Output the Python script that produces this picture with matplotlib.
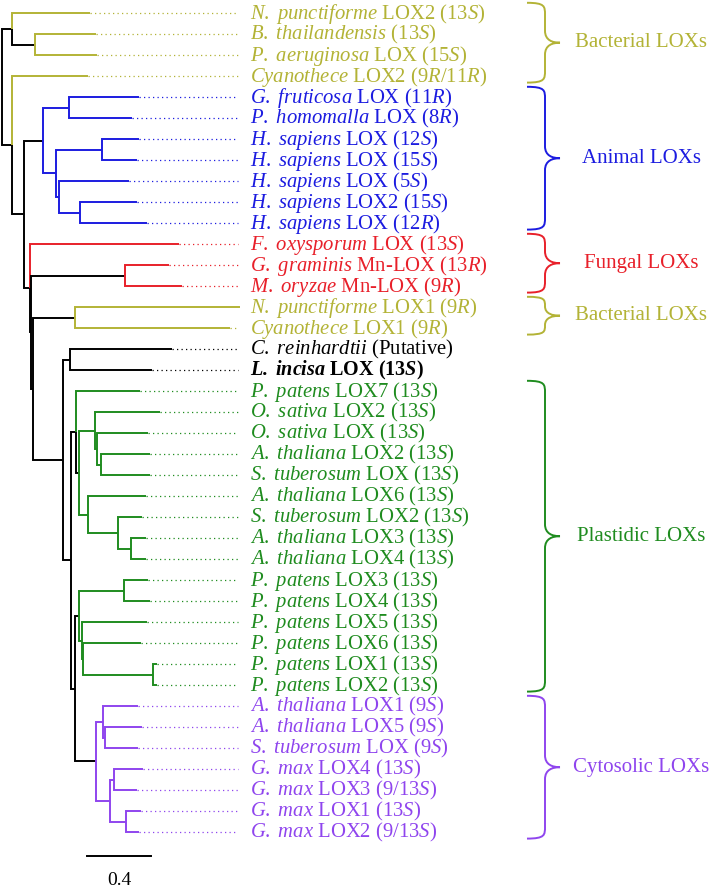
import re
import matplotlib
matplotlib.use('Agg')
import matplotlib.pyplot as plt
from matplotlib.path import Path
from matplotlib.patches import PathPatch

plt.rcParams['font.family'] = ['Liberation Serif', 'DejaVu Serif']
plt.rcParams['mathtext.fontset'] = 'custom'
plt.rcParams['mathtext.rm'] = 'Liberation Serif'
plt.rcParams['mathtext.it'] = 'Liberation Serif:italic'
plt.rcParams['mathtext.bf'] = 'Liberation Serif:bold'
plt.rcParams['mathtext.bfit'] = 'Liberation Serif:italic:bold'

# leaves, top to bottom
species = ['N. punctiforme', 'B. thailandensis', 'P. aeruginosa', 'Cyanothece',
           'G. fruticosa', 'P. homomalla', 'H. sapiens', 'H. sapiens', 'H. sapiens',
           'H. sapiens', 'H. sapiens', 'F. oxysporum', 'G. graminis', 'M. oryzae',
           'N. punctiforme', 'Cyanothece', 'C. reinhardtii', 'L. incisa',
           'P. patens', 'O. sativa', 'O. sativa', 'A. thaliana', 'S. tuberosum',
           'A. thaliana', 'S. tuberosum', 'A. thaliana', 'A. thaliana',
           'P. patens', 'P. patens', 'P. patens', 'P. patens', 'P. patens', 'P. patens',
           'A. thaliana', 'A. thaliana', 'S. tuberosum',
           'G. max', 'G. max', 'G. max', 'G. max']
genes = ['LOX2', '', 'LOX', 'LOX2', 'LOX', 'LOX', 'LOX', 'LOX', 'LOX', 'LOX2', 'LOX',
         'LOX', 'Mn-LOX', 'Mn-LOX', 'LOX1', 'LOX1', '(Putative)', 'LOX',
         'LOX7', 'LOX2', 'LOX', 'LOX2', 'LOX', 'LOX6', 'LOX2', 'LOX3', 'LOX4',
         'LOX3', 'LOX4', 'LOX5', 'LOX6', 'LOX1', 'LOX2',
         'LOX1', 'LOX5', 'LOX', 'LOX4', 'LOX3', 'LOX1', 'LOX2']
positions = ['13S', '13S', '15S', '9R/11R', '11R', '8R', '12S', '15S', '5S', '15S', '12R',
             '13S', '13R', '9R', '9R', '9R', '', '13S'] + ['13S'] * 15 + \
            ['9S', '9S', '9S', '13S', '9/13S', '13S', '9/13S']
bold_leaf = 17

group_names = ['Bacterial LOXs', 'Animal LOXs', 'Fungal LOXs', 'Bacterial LOXs',
               'Plastidic LOXs', 'Cytosolic LOXs']
group_first = [0, 4, 11, 14, 18, 33]
group_last = [3, 10, 13, 15, 32, 39]
group_colors = ['#b3b336', '#1c1ce0', '#e8202a', '#b3b336', '#1f8c1f', '#8f45ee']

# leaf ids refer to the lists above, '*' marks the root of a coloured clade
newick = (
    "((0:0.488,(1:0.381,2:0.388)*:0.144):0.063,"
    "(3:0.475,"
    "(((4:0.438,5:0.394):0.163,((6:0.231,7:0.219):0.288,"
    "(8:0.438,(9:0.356,10:0.419):0.131):0.019):0.081)*:0.119,"
    "(11:0.931,"
    "((12:0.275,13:0.356)*:0.588,"
    "((14:1.031,15:0.969)*:0.263,"
    "((16:0.638,17:0.513):0.044,"
    "((18:0.4,((19:0.406,(20:0.319,(21:0.306,22:0.306):0.025):0.013):0.1,"
    "(23:0.363,(24:0.15,(25:0.094,26:0.094):0.081):0.188):0.056)*:0.019):0.031,"
    "(((27:0.15,28:0.163):0.281,(29:0.406,(30:0.363,(31:0.025,32:0.025):0.438):0.006):0.019)*:0.025,"
    "((33:0.219,(34:0.231,35:0.206):0.013):0.044,"
    "((36:0.181,37:0.144):0.025,(38:0.094,39:0.081):0.1):0.088)*:0.131"
    "):0.025):0.05):0.188):0.013):0.006):0.038):0.075):0.063);"
)
scale_len = 0.4


def parse(s, i=0):
    node = {'children': [], 'name': '', 'length': 0.0}
    if s[i] == '(':
        i += 1
        while True:
            child, i = parse(s, i)
            node['children'].append(child)
            if s[i] == ',':
                i += 1
            else:
                i += 1  # ')'
                break
    j = i
    while s[i] not in ':,);':
        i += 1
    node['name'] = s[j:i]
    if s[i] == ':':
        i += 1
        j = i
        while s[i] not in ',);':
            i += 1
        node['length'] = float(s[j:i])
    return node, i


def layout(node, x0):
    node['x'] = x0 + node['length']
    if node['children']:
        for c in node['children']:
            layout(c, node['x'])
        node['y'] = (node['children'][0]['y'] + node['children'][-1]['y']) / 2
    else:
        node['y'] = int(node['name'])


def first_leaf(node):
    while node['children']:
        node = node['children'][0]
    return int(node['name'])


tree, _ = parse(newick)
layout(tree, 0.0)

leaf_color = ['black'] * len(species)
for g, (a, b) in enumerate(zip(group_first, group_last)):
    for k in range(a, b + 1):
        leaf_color[k] = group_colors[g]

# pixel-ish helpers: 160 px per unit of branch length, 21 px per leaf
def px(v):
    return (v - 2) / 160.0


def py(v):
    return (v - 13.3) / 21.0


fig = plt.figure(figsize=(7.09, 8.88), dpi=100)
ax = fig.add_axes([0, 0, 1, 1])
ax.set_xlim(px(0), px(709))
ax.set_ylim(py(888), py(0))
ax.axis('off')

LW = 1.4
leaves = []


def draw(node, in_clade):
    for c in node['children']:
        if not c['children']:
            col = leaf_color[int(c['name'])]
            leaves.append(c)
        elif in_clade:
            col = leaf_color[first_leaf(c)]
        else:
            col = 'black'
        ax.plot([node['x'], node['x'], c['x']], [node['y'], c['y'], c['y']],
                color=col, lw=LW, solid_joinstyle='miter', solid_capstyle='butt')
        draw(c, in_clade or c['name'] == '*')


draw(tree, False)

lead_end = px(238)
text_x = px(250)


def ital(s, bold=False):
    cmd = 'mathbfit' if bold else 'mathit'
    return '$\\%s{%s}$' % (cmd, s.replace(' ', '\\ '))


for lf in leaves:
    k = int(lf['name'])
    col = leaf_color[k]
    if lf['x'] < lead_end:
        ax.plot([lf['x'], lead_end], [k, k], color=col, lw=0.9,
                linestyle=(0, (1, 2.6)))
    bold = k == bold_leaf
    label = ital(species[k], bold)
    if genes[k]:
        label += ' ' + genes[k]
    if positions[k]:
        pos = re.sub(r'([SR])', lambda m: ital(m.group(1), bold), positions[k])
        label += ' (' + pos + ')'
    ax.text(text_x, k + 0.27, label, color=col, fontsize=14.5 if bold else 14.9,
            fontweight='bold' if bold else 'normal', va='baseline', ha='left')


def brace(y0, y1, color):
    xl, xs, xt = px(527), px(545), px(560)
    ym = (y0 + y1) / 2
    r = min(py(13.3 + 12), (y1 - y0) / 4)
    verts = [(xl, y0), (xs, y0), (xs, y0 + r * 0.3), (xs, y0 + r),
             (xs, ym - r),
             (xs, ym - r * 0.2), (xt - (xt - xs) * 0.5, ym), (xt, ym),
             (xt - (xt - xs) * 0.5, ym), (xs, ym + r * 0.2), (xs, ym + r),
             (xs, y1 - r),
             (xs, y1 - r * 0.3), (xs, y1), (xl, y1)]
    codes = [Path.MOVETO] + [Path.CURVE4] * 3 + [Path.LINETO] + [Path.CURVE4] * 6 + \
            [Path.LINETO] + [Path.CURVE4] * 3
    ax.add_patch(PathPatch(Path(verts, codes), fill=False, edgecolor=color, lw=1.4))


for name, a, b, col in zip(group_names, group_first, group_last, group_colors):
    y0, y1 = a - 0.5, b + 0.3
    brace(y0, y1, col)
    ax.text(px(641), (y0 + y1) / 2, name, color=col, fontsize=15,
            ha='center', va='center')

# scale bar
x0 = px(87)
yb = py(856)
ax.plot([x0, x0 + scale_len], [yb, yb], color='black', lw=1.4)
ax.text(x0 + scale_len / 2, py(880), str(scale_len), fontsize=14,
        ha='center', va='center')

fig.savefig('out.png', dpi=100)
